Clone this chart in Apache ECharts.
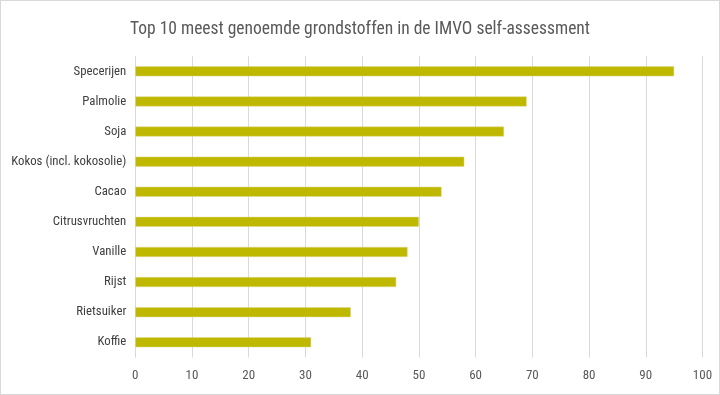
<!DOCTYPE html>
<html><head><meta charset="utf-8">
<script src="https://cdn.jsdelivr.net/npm/echarts@6/dist/echarts.min.js"></script>
<style>html,body{margin:0;padding:0;background:#fff}#c{width:718px;height:393px;border:1px solid #d9d9d9;}</style>
</head><body><div id="c"></div>
<script>
const categories = ["Specerijen","Palmolie","Soja","Kokos (incl. kokosolie)","Cacao","Citrusvruchten","Vanille","Rijst","Rietsuiker","Koffie"];
const values = [95,69,65,58,54,50,48,46,38,31];
const xTicks = [0,10,20,30,40,50,60,70,80,90,100];
const FONT = "'Roboto Condensed','Open Sans Condensed',sans-serif";
const chart = echarts.init(document.getElementById('c'));
chart.setOption({
  animation:false,
  title:{text:"Top 10 meest genoemde grondstoffen in de IMVO self-assessment",left:'center',top:15,
    textStyle:{fontFamily:FONT,fontSize:17.5,fontWeight:'normal',color:'#595959'}},
  grid:{left:134.3,right:16.5,top:55.3,bottom:36.7,containLabel:false,outerBoundsMode:'none'},
  xAxis:{type:'value',min:xTicks[0],max:xTicks[xTicks.length-1],interval:10,
    axisLine:{show:false},axisTick:{show:false},
    splitLine:{lineStyle:{color:'#d9d9d9',width:1}},
    axisLabel:{fontFamily:FONT,fontSize:13,color:'#595959',margin:12}},
  yAxis:{type:'category',inverse:true,data:categories,
    axisLine:{show:true,lineStyle:{color:'#d9d9d9'}},axisTick:{show:false},
    axisLabel:{fontFamily:FONT,fontSize:12.8,color:'#404040',margin:9}},
  series:[{type:'bar',data:values,barWidth:10,
    itemStyle:{color:'#bfb800',borderColor:'#ddd98a',borderWidth:0.5}}]
});
</script></body></html>
